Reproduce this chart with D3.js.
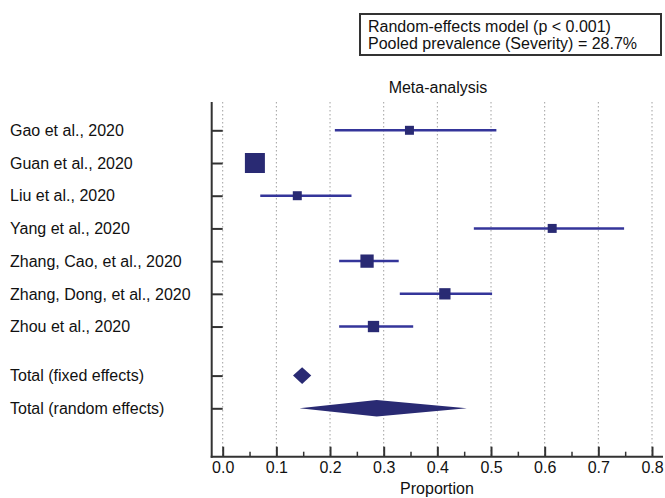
<!DOCTYPE html>
<html>
<head>
<meta charset="utf-8">
<script src="https://cdn.jsdelivr.net/npm/d3@7"></script>
<style>
  html, body { margin: 0; padding: 0; background: #fff; }
  svg { display: block; font-family: "Liberation Sans", Arial, sans-serif; }
</style>
</head>
<body>
<svg id="chart" width="665" height="498"></svg>
<script>
// ---- data ----
const studies = ["Gao et al., 2020", "Guan et al., 2020", "Liu et al., 2020", "Yang et al., 2020",
                 "Zhang, Cao, et al., 2020", "Zhang, Dong, et al., 2020", "Zhou et al., 2020"];
const estimate = [0.348, 0.060, 0.139, 0.614, 0.269, 0.414, 0.281];
const lowerCI  = [0.209, 0.047, 0.070, 0.468, 0.217, 0.330, 0.217];
const upperCI  = [0.510, 0.075, 0.240, 0.748, 0.328, 0.502, 0.355];
const weightPct = [7.5, 37.2, 7.5, 7.5, 16.4, 11.9, 11.9];

const totals = ["Total (fixed effects)", "Total (random effects)"];
const totalEst   = [0.148, 0.287];
const totalLower = [0.131, 0.143];
const totalUpper = [0.165, 0.455];

const xTicks = [0.0, 0.1, 0.2, 0.3, 0.4, 0.5, 0.6, 0.7, 0.8];
const xMinorTicks = [0.05, 0.15, 0.25, 0.35, 0.45, 0.55, 0.65, 0.75];
const legendLines = ["Random-effects model (p < 0.001)", "Pooled prevalence (Severity) = 28.7%"];
const title = "Meta-analysis";
const xTitle = "Proportion";

// ---- layout ----
const svg = d3.select("#chart");
const axisX = 211.7, axisBottom = 456.7, axisTop = 102, axisRight = 663;
const x = d3.scaleLinear().domain([0, 0.8]).range([222.7, 652]);
const y = d3.scaleLinear().domain([0, 8.5]).range([130.3, 408.3]);
const size = d3.scaleSqrt().domain([0, 37.2]).range([0, 20]);
const rowStudy = studies.map((d, i) => i);
const rowTotal = totals.map((d, i) => 7.5 + i);
const navy = "#292a73";
const lineCol = "#34359a";
const font = 16;

// gridlines
svg.append("g").selectAll("line").data(xTicks).join("line")
  .attr("x1", d => x(d)).attr("x2", d => x(d))
  .attr("y1", axisTop).attr("y2", axisBottom)
  .attr("stroke", "#a0a0a0").attr("stroke-width", 1)
  .attr("stroke-dasharray", "1.5,2.5");

// title
svg.append("text").attr("x", 438).attr("y", 93).attr("text-anchor", "middle")
  .attr("font-size", font).attr("fill", "#111").text(title);

// legend box
const lg = svg.append("g");
lg.append("rect").attr("x", 360).attr("y", 14).attr("width", 301).attr("height", 41)
  .attr("fill", "#fff").attr("stroke", "#333").attr("stroke-width", 2);
lg.selectAll("text").data(legendLines).join("text")
  .attr("x", 368).attr("y", (d, i) => 31.5 + i * 17.5)
  .attr("font-size", font).attr("fill", "#111").text(d => d);

// bottom axis
const xAxis = d3.axisBottom(x).tickValues(xTicks).tickFormat(d3.format(".1f"))
  .tickSizeInner(-10).tickSizeOuter(0).tickPadding(5);
const gx = svg.append("g").attr("transform", `translate(0,${axisBottom})`).call(xAxis);
gx.select(".domain").remove();
gx.selectAll(".tick line").attr("stroke", "#333").attr("stroke-width", 2);
gx.selectAll(".tick text").attr("font-size", font).attr("fill", "#111")
  .attr("font-family", "Liberation Sans, Arial, sans-serif");
const xMinor = d3.axisBottom(x).tickValues(xMinorTicks).tickFormat("").tickSizeInner(-5).tickSizeOuter(0);
const gxm = svg.append("g").attr("transform", `translate(0,${axisBottom})`).call(xMinor);
gxm.select(".domain").remove();
gxm.selectAll(".tick line").attr("stroke", "#333").attr("stroke-width", 1.5);

// left axis
const yAxis = d3.axisRight(y).tickValues(rowStudy.concat(rowTotal)).tickFormat("").tickSizeInner(11).tickSizeOuter(0);
const gy = svg.append("g").attr("transform", `translate(${axisX},0)`).call(yAxis);
gy.select(".domain").remove();
gy.selectAll(".tick line").attr("stroke", "#333").attr("stroke-width", 2);

// frame lines
svg.append("line").attr("x1", axisX).attr("x2", axisX).attr("y1", axisTop).attr("y2", axisBottom + 1)
  .attr("stroke", "#333").attr("stroke-width", 2);
svg.append("line").attr("x1", axisX - 1).attr("x2", axisRight).attr("y1", axisBottom).attr("y2", axisBottom)
  .attr("stroke", "#333").attr("stroke-width", 2);

// x title
svg.append("text").attr("x", 437).attr("y", 494).attr("text-anchor", "middle")
  .attr("font-size", font).attr("fill", "#111").text(xTitle);

// row labels
svg.append("g").selectAll("text").data(studies.concat(totals)).join("text")
  .attr("x", 10).attr("y", (d, i) => y(i < studies.length ? rowStudy[i] : rowTotal[i - studies.length]) + 5.7)
  .attr("font-size", font).attr("fill", "#111").text(d => d);

// CI lines
svg.append("g").selectAll("line").data(studies).join("line")
  .attr("x1", (d, i) => x(lowerCI[i])).attr("x2", (d, i) => x(upperCI[i]))
  .attr("y1", (d, i) => y(rowStudy[i])).attr("y2", (d, i) => y(rowStudy[i]))
  .attr("stroke", lineCol).attr("stroke-width", 2.5);

// squares
svg.append("g").selectAll("rect").data(studies).join("rect")
  .attr("x", (d, i) => x(estimate[i]) - size(weightPct[i]) / 2)
  .attr("y", (d, i) => y(rowStudy[i]) - size(weightPct[i]) / 2)
  .attr("width", (d, i) => size(weightPct[i]))
  .attr("height", (d, i) => size(weightPct[i]))
  .attr("fill", navy);

// diamonds
const dh = 8.3;
svg.append("g").selectAll("path").data(totals).join("path")
  .attr("d", (d, i) => {
    const yc = y(rowTotal[i]);
    return `M${x(totalLower[i])},${yc} L${x(totalEst[i])},${yc - dh} L${x(totalUpper[i])},${yc} L${x(totalEst[i])},${yc + dh} Z`;
  })
  .attr("fill", navy);
</script>
</body>
</html>
